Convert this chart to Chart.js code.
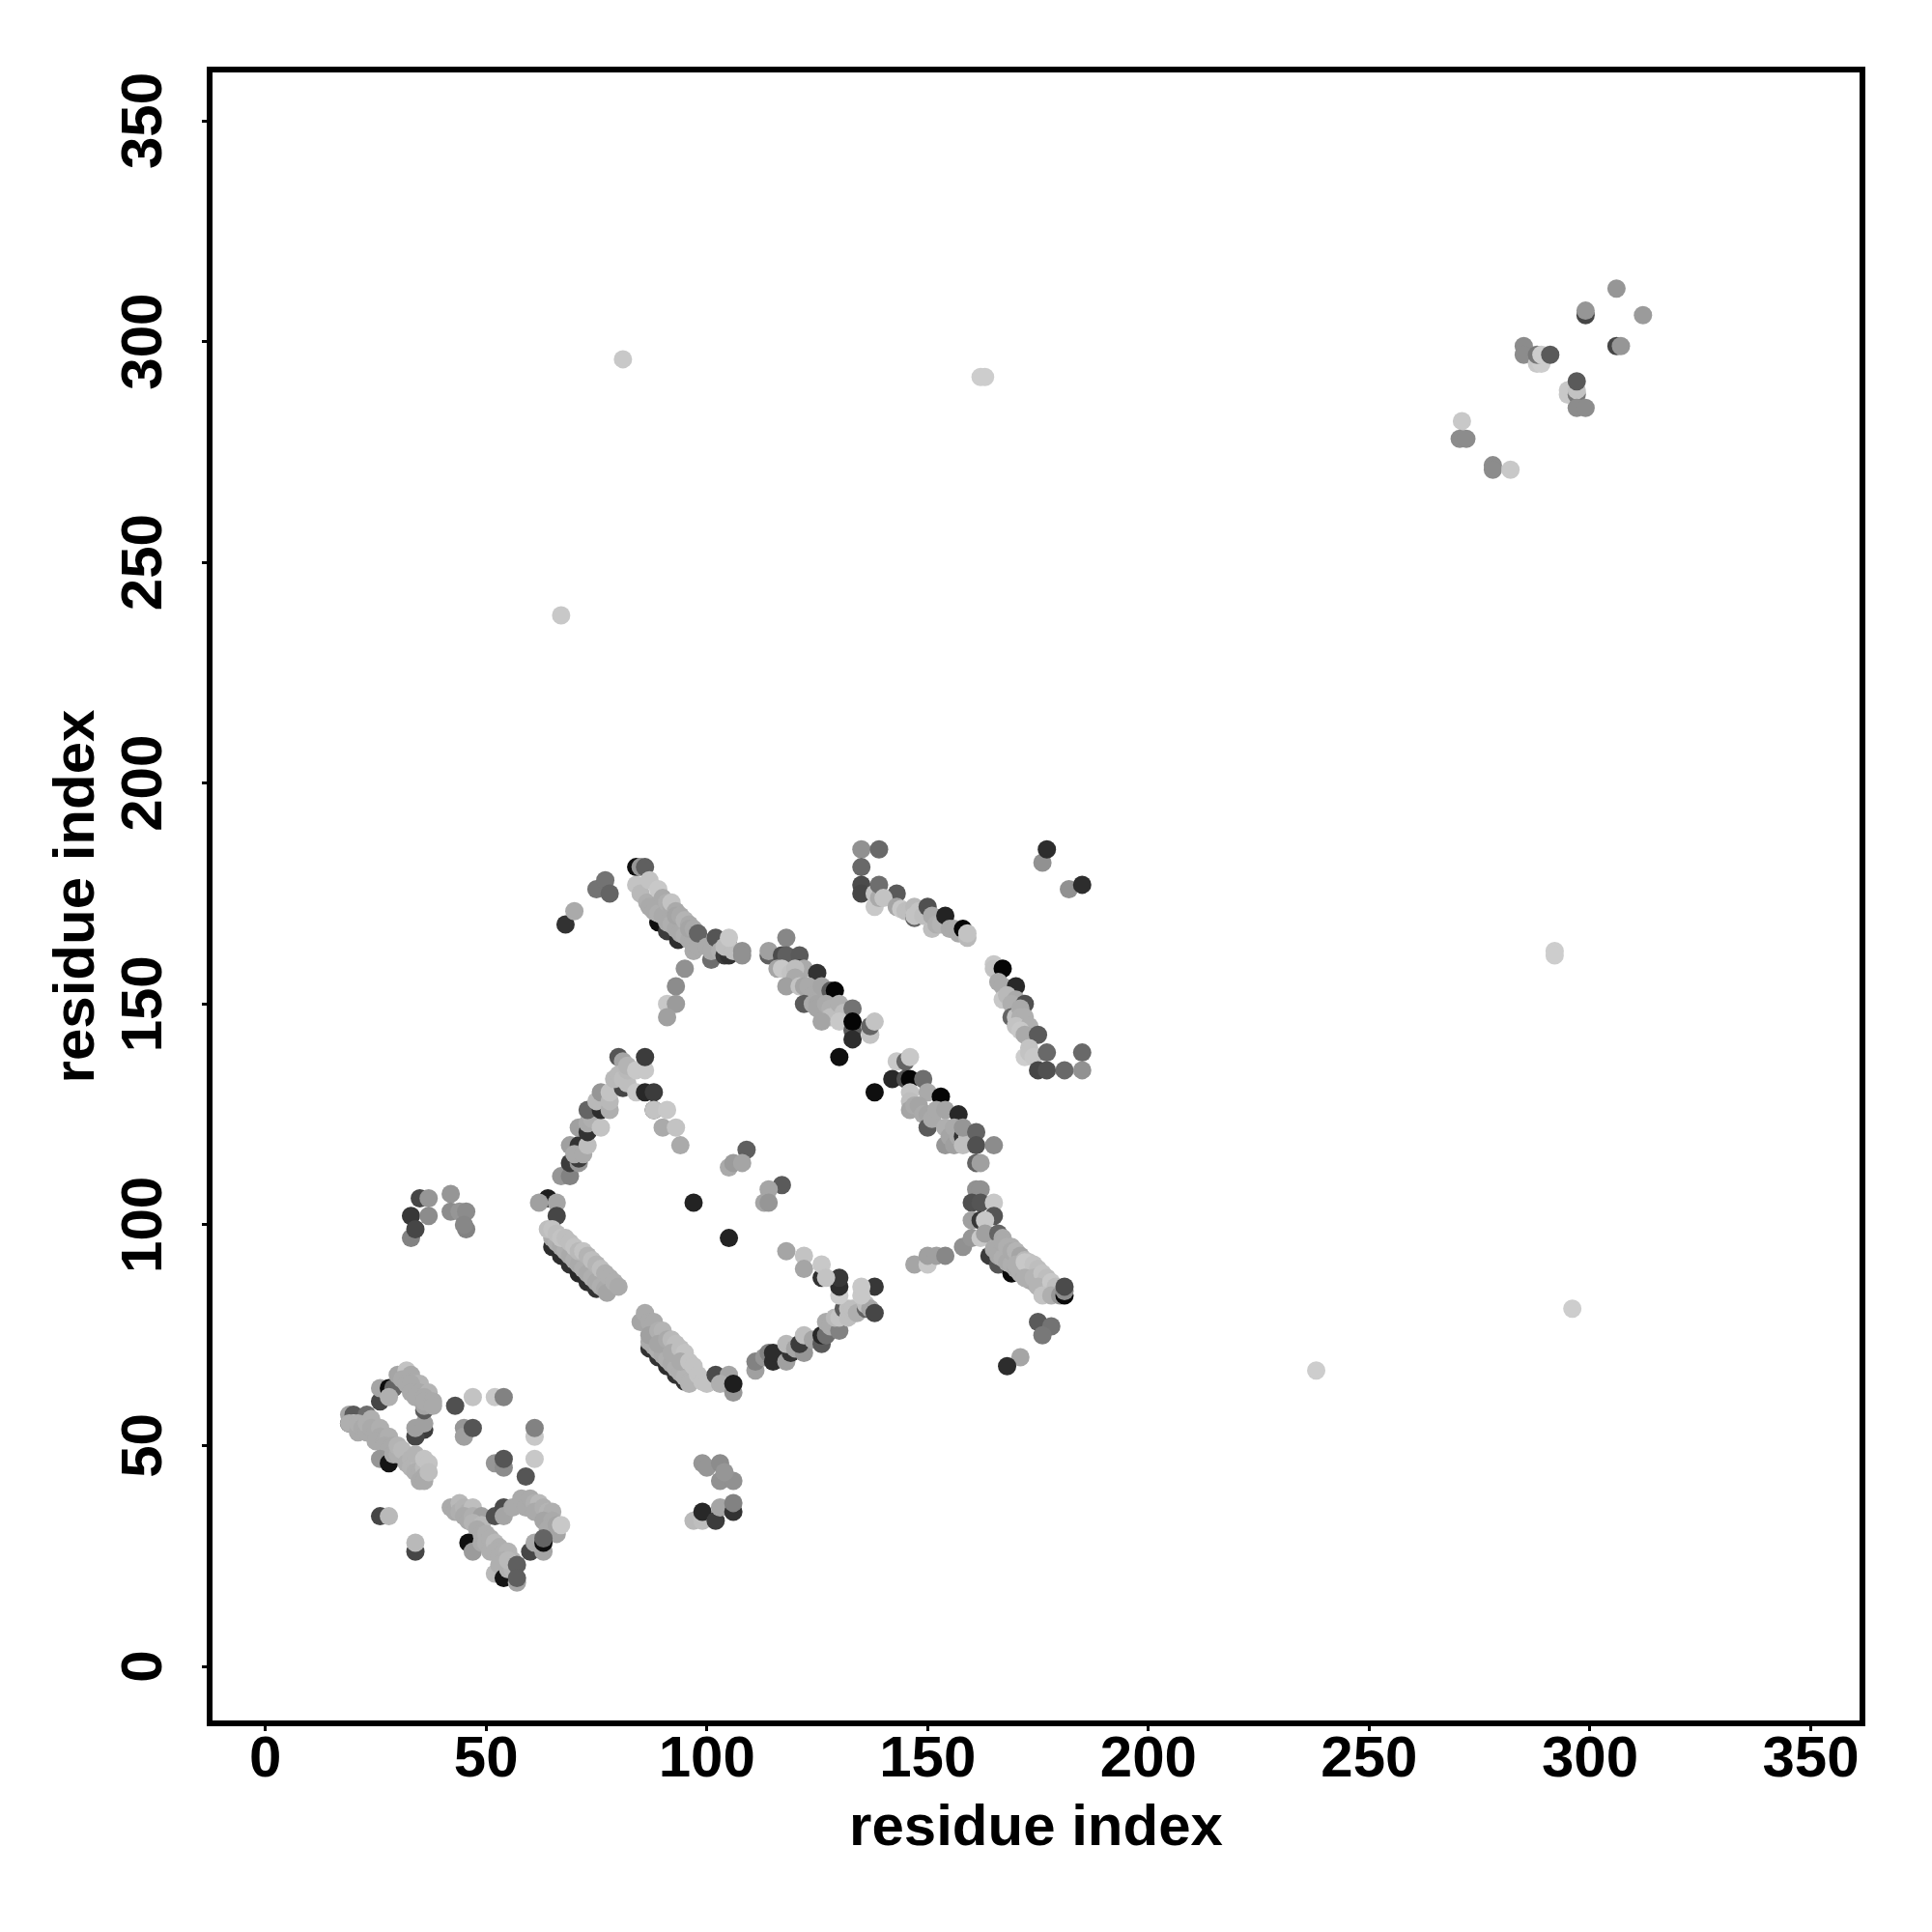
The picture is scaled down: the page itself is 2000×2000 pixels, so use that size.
<!DOCTYPE html>
<html><head><meta charset="utf-8">
<style>html,body{margin:0;padding:0;background:#fff}canvas{display:block}</style>
<script src="https://cdn.jsdelivr.net/npm/chart.js@4"></script>
</head><body><canvas id="c" width="2000" height="2000"></canvas>
<script>
// every entry: [residue x, residue y, grey shade 0-255]
const xTitle = "residue index", yTitle = "residue index";
const tickStep = 50;
const clusterSouthWest = [
[26,60,70],[26,63,165],[28,63,10],[29,63,100],[28,61,175],[30,66,165],[32,67,195],[33,66,170],[31,65,170],[32,64,170],[34,64,175],[35,64,180],[33,64,170],[33,62,170],[35,62,170],[37,62,180],[34,61,170],[36,61,170],[37,60,170],
[36,53.6,60],[34,52,70],[34,54,160],[36,55,160],[36,58,90],[36,59,165],[36,60,170],[38,60,170],[38,59,170],
[19,55,50],[19,57,165],[20,57,90],[23,57,110],[20,55,195],[19,55,175],[21,53,170],[21,55,175],[22,54,170],[23,53,170],[23,55,175],[24,56,175],[24,54,170],[25,53,170],[26,54,175],[26,52,170],[25,51,170],[27,51,170],[28,52,175],[27,50,170],[29,50,170],[28,49,170],
[26,47,150],[28,46,20],[29,48,170],[30,48,175],[30,50,180],[31,49,185],[32,46,175],[33,47,180],[33,45,180],[34,46,180],[35,46,185],[34,48,180],[34,44,175],[35,44,175],[36,45,185],[36,47,195],[37,46,195],[36,43,170],[35,42,170],[36,42,170],[37,44,190],
[43,59,80],[47,61,195],[52,61,200],[54,61,130],[45,54,150],[45,52,160],[47,54,85],
[61,52,200],[61,54,130],[61,47,200],[52,46,150],[54,45,140],[54,47,85],[59,43,85],
[26,34,70],[28,34,185],[34,26,70],[34,28,185]
];
const clusterSouthWestLower = [
[42,36,170],[43,35,170],[44,37,185],[44,35,175],[45,36,180],[46,35,175],[47,36,190],[45,34,170],[46,33,170],[47,34,175],[48,33,175],[49,34,160],[47,32.5,180],[49,32,185],[48,31,170],
[52,34,80],[54,36,75],[54,34,165],[56,36,170],[58,38,170],[59,36,170],[60,38,170],[61,37,175],[62,37,185],[61,35,170],[63,36,175],[64,35,180],[65,35,175],[63,33,165],[65,33,170],[64,31,170],[66,30,165],[66,32,165],[67,32,200],
[60,26,70],[63,26,165],[61,28,170],[63,28,15],[63,29,100],
[46,28,15],[47,26,155],[49,28,170],[49,30,170],[50,30,175],[50,28,175],[51,29,175],[51,26,175],[52,28,185],[53,27,175],[52,26,175],[53,25,175],[54,26,175],[55,26,180],[56,24,180],[54,24,175],[52,21,185],[53,23,175],[54,20,20],[55,22,175],[56,22,180],[55,24,185],[57,19,165],[57,23,95],[57,20,95]
];
const clusterDiamondLeft = [
[64,106,30],[62,105,160],[66,105,165],[66,102,70],[67,111,150],[69,111,130],[69,114,60],[71,114,150],[71,115,60],[69,118,160],[71,118,50],[70,116,170],[72,116,170],[73,118,190],
[71,122,160],[73,121,50],[73,123,170],[74,124,175],[76,122,195],[73,126,100],[76,126,45],[75,128,185],[78,126,175],[76,130,150],[78,128,185],[78,130,195],
[80,138,85],[81,137,165],[81,131,70],[79,133,185],[80,134,185],[81,133,190],[82,132,190],[82,135,185],[82,136,180],[84,135,200],[86,135,200],[86,138,60],[84,130,200],[86,130,40],[88,130,60],
[88,126,50],[88,126,195],[91,126,200],[90,122,170],[93,122,195],[94,118,170]
];
const clusterDiamondLower = [
[65,95,45],[67,93,45],[69,91,50],[71,89,40],[73,87,45],[75,85.5,50],
[65,97,170],[66,96,175],[67,95,170],[68,94,175],[69,93,170],[70,92,175],[71,91,170],[72,90,175],[73,89,170],[74,88,175],[75,87,170],[76,86,175],[77,85.5,170],
[64,99,190],[65,99,195],[66,98,190],[67,97,195],[68,97,190],[69,96,190],[70,95,195],[71,94,185],[72,94,195],[73,93,180],[74,92,190],[75,91,180],[76,90,190],[77,89,175],[78,88,175],[77.4,84.6,165],[79,87,175],[80,86,170],
[87,72,50],[89,70,50],[91,68,45],[93,66,50],[95,64.5,50],
[87,73.5,170],[88,72.5,170],[89,71.5,175],[90,70.5,170],[91,69.5,175],[92,68.5,170],[93,67.5,175],[94,66.5,175],[95,65.5,180],[96,64.5,180],
[85,78,165],[86,80,170],[87,78,170],[88,78,170],[87,75,160],[89,76,175],[90,76,180],[89,73,165],[91,74,170],[92,74,185],[93,73,190],[92,71,170],[94,72,190],[95,71,195],[94,69,170],[96,69,195],[97,68,195],[96,64,180],[98,66,195],[99,64.5,195],[100,64,195],
[102,66,75],[105,66,165],[103,64,175],[106,62,150],[106,64,30]
];
const clusterDiamondRight = [
[111,67,160],[111,69,130],[113,70,150],[114,71,130],[115,69,45],[115,71,45],[118,69,160],[119,71,50],[118,73,185],[120,72,165],[122,71,150],[121,73,60],[122,75,190],[124,74,165],[126,73,90],[126,75,40],[127,75,110],[127,78,170],[128,77,170],[130,76,130],[129,79,185],[130,79,195],
[131,81,90],[132,79,190],[132,81,190],[133,81,190],[134,80,175],[136,81,100],[136,82,190],[137,81,165],[138,80,70],[138,86,55],[135,84,200],[135,86,200],[130,84,205],[130,86,45],[130,88,55],
[118,94,165],[122,93,195],[122,90,165],[126,88,50],[126,91,200],[127,88,195]
];
const clusterInner = [
[109,117,95],[105,113,170],[106,114,155],[108,114,165],[117,109,90],[114,108,165],[113,105,165],[114,105,150],[97,105,35],[105,97,35]
];
const clusterWestFar = [
[33,97,130],[33,102,55],[34,99,70],[35,106,70],[37,106,150],[37,102,140],[42,107,150],[42,103,140],[44,103,150],[45.5,103,140],[45.5,99,130],[45,100,135]
];
const clusterSouthMid = [
[97,33,185],[99,33,190],[99,35,40],[102,33,60],[103,36,165],[106,35,50],[106,37,130],[99,46,150],[100,45,150],[103,46,140],[103,42,145],[106,42,145],[104,44,150]
];
const clusterNorthWest = [
[68,168,50],[70,171,170],[75,176,115],[77,178,115],[78,175,100],
[84,181,15],[85,181,150],[86,181,95],[84,177,195],[85,175,185],[87,178,195],[86.5,173,175],[88,172,170],[89,176,200],
[89,168.5,15],[91,166.5,60],[93.5,164.5,45],
[87,172,170],[88,171,170],[89,170.5,175],[90,170,170],[91,168.5,170],[92,168,175],[93,167,170],[94,166,170],[95,165.5,175],[96,164.5,170],[97,164,170],
[90,174,170],[91,173,175],[92,172,170],[92,173,195],[93,171,170],[93,170,165],[94,170,170],[95,169,180],[96,168,170],[96,167,165],[97,167,170],[97,162,170],[98,163,170],[98,166,100],
[100,163,170],[101,160,110],[101,162,170],[102,165,85],[103,162,175],[104,161,60],[105,161,50],[105,163,90],[104,163,190],[106,162,190],[105,165,200],[108,162,145],[108,161,145],
[95,158,145],[93,154,140],[91,150,200],[93,150,155],[91,147,160]
];
const clusterCentre = [
[118,165,135],[114,161,95],[114,162,160],[117,161,75],[118,161,95],[121,161,90],[116,158,165],[117,158,200],[121,158,50],[122,158,170],[119,157,195],[120,158,190],[120,156,170],[125,157,50],
[118,154,160],[121,154,195],[122,154,165],[123,154,170],[124,152,170],[126,152,170],[126,154,165],[128,153,90],[129,153,5],[122,150,90],[124,150,170],[125,150,165],[125,149,165],[127,150,170],[128,149,175],[128,147,190],[130,150,175],[131,148,190],[133,149,115],
[126,146,165],[130,146,200],[133,144,90],[133,146,5],[133,142,45],[137,143,195],[137,145,100],[138,146,195],[130,138,15]
];
const clusterCentreLower = [
[143,137,200],[145,137,100],[146,138,200],[142,133,40],[145,133,80],[146,133,5],[149,133,110],[138,130,15],[146,130,195],[150,130,170],[153,129,5],
[146,128,190],[146,126,165],[147,127,170],[148,127,165],[149,125,170],[150,125,165],[150,122,90],[151,124,170],[152,126,170],[154,126,165],[157,125,40],[154,122,175],[154,118,150],[155,120,165],[156,122,170],[156,118,160],[157,120,170],[158,120,50],[158,118,190],[159,120,190],[158,122,150],
[161,121,100],[161,118,80],[165,118,140],[161,114,100],[162,114,160]
];
const clusterNorthCentre = [
[135,185,145],[139,185,105],[135,181,105],[135,177,75],[135,175,70],[138,172,200],[138,175,195],[139,174,170],[139,177,110],
[143,175,90],[140,174,195],[143,172,165],[144,171.5,200],[145,171,190],[146,171,190],[147,169.5,100],[147,172,185],[147,170,195],[148,171,195],[149,170,190],[150,172,80],[151,167,190],[151,170,170],[152,168,175],[153,168,180],[154,170,35],[155,167,170],[156,167,170],[157,166,170],[158,167,5],[159,165,185],[159,166,195]
];
const clusterNorthEast = [
[165,159,200],[165,158,195],[166,157,195],[167,158,5],[166,155,170],[167,154,170],[170,154,40],[167,151,200],[168,152,185],[170,151,170],[169,150,175],[172,150,80],[169,147,100],[170,147,195],[171,149,170],[171,147,175],[172,147,175],[170,145,195],[173,145,175],[171,144,200],[172,143,170],[175,143,90],
[173,140,195],[172,138,205],[173,139,195],[174,138,200],[177,139,105],[175,135,70],[177,135,80],[181,135,105],[185,139,105],[185,135,145],
[176,182,145],[177,185,45],[182,176,145],[185,177,45]
];
const clusterEast = [
[147,91,165],[150,91,200],[150,93,160],[152,93,160],[154,93,135],[158,95,145],
[161,108,145],[162,108,145],[160,105,80],[162,105,85],[165,105,200],[165,102,85],[160,101,160],[162,101,55],[163,101,200],[160,97,150],[162,97,200],[163,98,160],
[164,93,60],[166,91,85],[169,89,10],[166,98,100],
[165,94.5,170],[166,93,170],[167,92.5,175],[168,91.5,170],[169,91,175],[170,90,170],[171,89,175],[172,88.5,170],[173,87.5,175],[174,87,170],[175,86,175],[176,86,170],[177,85,175],[178,85,175],
[167,97,170],[167,96,170],[168,95,175],[169,95,175],[169,94,170],[170,94,180],[171,93,165],[170,91,175],[172,92,185],[173,91.5,195],[172,91.5,200],[174,91,195],[175,90,190],[172,88,175],[174,88,180],[176,89,195],[177,88,190],[175,86,180],[178,87,200],[179,86,190],[176,84,195],[178,84,175],[180,84,150],[181,84,10],[181,85,140],[181,86,75],
[175,78,90],[178,77,115],[176,75,120],[171,70,165],[168,68,45]
];
const clusterFarNorthEast = [
[306,312,150],[299,306,70],[299,307,150],[312,306,155],[306,299,70],[307,299,150],
[285,299,140],[285,297,140],[288,295,200],[289,295,205],[288,297,120],[289,297,205],[291,297,90],
[295,289,200],[295,288,200],[297,288,120],[297,289,195],[297,291,90],[297,285,140],[299,285,140],
[271,282,200],[270.5,278,140],[272,278,140],[278,272,140],[278,271,140],[282,271,200]
];
const clusterIsolated = [
[81,296,200],[67,238,200],[162,292,205],[163,292,205],[292,162,205],[292,161,205],[296,81,205],[238,67,205]
];
const allClusters = [clusterSouthWest,clusterSouthWestLower,clusterDiamondLeft,clusterDiamondLower,clusterDiamondRight,clusterInner,clusterWestFar,clusterSouthMid,clusterNorthWest,clusterCentre,clusterCentreLower,clusterNorthCentre,clusterNorthEast,clusterEast,clusterFarNorthEast,clusterIsolated];
const contacts = allClusters.flat();

const frame = {id:'frame',afterDraw(ch){const a=ch.chartArea,g=ch.ctx;g.save();g.strokeStyle='#000';g.lineWidth=6;g.strokeRect(a.left,a.top,a.right-a.left,a.bottom-a.top);g.restore();}};
const tickFont = {family:'"Liberation Sans"',size:60,weight:'bold'};
const titleFont = {family:'"Liberation Sans"',size:60,weight:'bold'};
const gridOpts = {display:true,drawOnChartArea:false,drawTicks:true,tickLength:8,tickWidth:3,tickColor:'#000'};

new Chart(document.getElementById('c'),{
  type:'scatter',
  data:{datasets:[{
    data:contacts.map(p=>({x:p[0],y:p[1]})),
    backgroundColor:contacts.map(p=>`rgb(${p[2]},${p[2]},${p[2]})`),
    pointRadius:9.5,pointBorderWidth:0,pointHoverRadius:9.5,showLine:false
  }]},
  options:{
    responsive:false,animation:false,devicePixelRatio:1,
    layout:{padding:{top:72,right:72,left:0,bottom:0}},
    plugins:{legend:{display:false},tooltip:{enabled:false},title:{display:false}},
    scales:{
      x:{type:'linear',min:-12.6,max:361.7,
        afterFit(s){s.height=216;},
        border:{display:false},grid:gridOpts,
        ticks:{stepSize:tickStep,includeBounds:false,autoSkip:false,maxRotation:0,minRotation:0,color:'#000',font:tickFont,padding:-6},
        title:{display:true,text:xTitle,color:'#000',font:titleFont,padding:{top:0,bottom:71}}},
      y:{type:'linear',min:-12.9,max:361.6,
        afterFit(s){s.width=217;},
        border:{display:false},grid:gridOpts,
        ticks:{stepSize:tickStep,includeBounds:false,autoSkip:false,minRotation:90,maxRotation:90,crossAlign:'center',color:'#000',font:tickFont,padding:8},
        title:{display:true,text:yTitle,color:'#000',font:titleFont,padding:{top:44,bottom:0}}}
    }
  },
  plugins:[frame]
});
</script></body></html>
